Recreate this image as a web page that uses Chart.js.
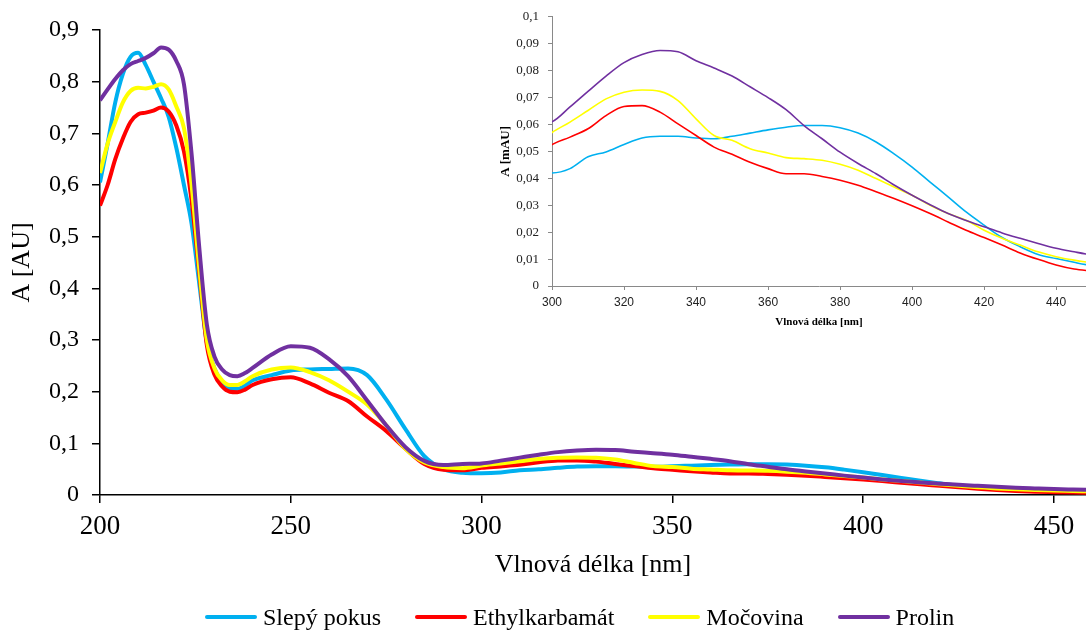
<!DOCTYPE html>
<html>
<head>
<meta charset="utf-8">
<script src="https://cdn.jsdelivr.net/npm/chart.js@4.4.1/dist/chart.umd.min.js"></script>
<style>
  html, body { margin: 0; padding: 0; background: #fff; }
  #wrap { position: relative; width: 1086px; height: 630px; overflow: hidden; }
  #main { position: absolute; left: 0; top: 0; }
  #inset { position: absolute; left: 470px; top: 0; }
  #legend {
    position: absolute; left: 205px; top: 602px; height: 30px;
    display: flex; align-items: center; white-space: nowrap;
    font-family: "Liberation Serif", "Times New Roman", serif; font-size: 24px; color: #000;
  }
  .item { display: flex; align-items: center; margin-right: 34px; }
  .swatch { width: 52px; height: 4px; margin-right: 6px; border-radius: 2px; }
</style>
</head>
<body>
<div id="wrap">
  <canvas id="main" width="1086" height="630"></canvas>
  <canvas id="inset" width="616" height="335"></canvas>
  <div id="legend"></div>
</div>
<script>
// wavelengths (nm) - 2 nm steps up to 240, then 5 nm steps
const wavelengths = [
  200, 202, 204, 206, 208, 210, 212, 214, 216, 218, 220, 222, 224, 226, 228, 230, 232, 234, 236, 238, 240,
  245, 250, 255, 260, 265, 270, 275, 280, 285, 290, 295, 300,
  305, 310, 315, 320, 325, 330, 335, 340, 345, 350,
  355, 360, 365, 370, 375, 380, 385, 390, 395, 400,
  405, 410, 415, 420, 425, 430, 435, 440, 445, 450,
  455, 460
];

const slepyPokus = [
  0.605, 0.68, 0.76, 0.815, 0.848, 0.856, 0.832, 0.8, 0.768, 0.732, 0.672, 0.6, 0.525, 0.41, 0.295, 0.245, 0.218, 0.206, 0.205, 0.212, 0.222,
  0.232, 0.241, 0.243, 0.244, 0.245, 0.232, 0.185, 0.128, 0.075, 0.05, 0.043, 0.042,
  0.0436, 0.048, 0.0498, 0.0526, 0.055, 0.0556, 0.0556, 0.055, 0.0547, 0.0556,
  0.0568, 0.058, 0.059, 0.0596, 0.0596, 0.0588, 0.0568, 0.0535, 0.0491, 0.0442,
  0.0386, 0.0331, 0.0275, 0.0226, 0.018, 0.0146, 0.0117, 0.0102, 0.0088, 0.0075,
  0.0065, 0.0057
];

const ethylkarbamat = [
  0.56, 0.6, 0.65, 0.69, 0.722, 0.737, 0.74, 0.744, 0.75, 0.742, 0.715, 0.665, 0.57, 0.43, 0.29, 0.233, 0.21, 0.2, 0.199, 0.204, 0.213,
  0.224, 0.228, 0.216, 0.198, 0.182, 0.152, 0.124, 0.09, 0.06, 0.049, 0.048, 0.0525,
  0.0553, 0.0584, 0.0633, 0.0667, 0.067, 0.0646, 0.0602, 0.0559, 0.0516, 0.0489,
  0.046, 0.0436, 0.0417, 0.0417, 0.0407, 0.0393, 0.0374, 0.035, 0.0325, 0.0298,
  0.0269, 0.0238, 0.0207, 0.018, 0.0152, 0.0123, 0.0099, 0.0078, 0.0063, 0.0055,
  0.0048, 0.0042
];

const mocovina = [
  0.623, 0.68, 0.722, 0.76, 0.782, 0.788, 0.787, 0.79, 0.795, 0.785, 0.752, 0.71, 0.6, 0.44, 0.3, 0.245, 0.222, 0.213, 0.213, 0.22, 0.23,
  0.243, 0.247, 0.238, 0.222, 0.2, 0.175, 0.135, 0.09, 0.063, 0.054, 0.052, 0.057,
  0.0609, 0.0652, 0.0695, 0.072, 0.0728, 0.0723, 0.0689, 0.0621, 0.0559, 0.0541,
  0.051, 0.0494, 0.0477, 0.0473, 0.0467, 0.0452, 0.043, 0.0399, 0.0368, 0.0337,
  0.03, 0.0269, 0.0244, 0.0207, 0.0177, 0.0152, 0.0127, 0.0109, 0.0096, 0.0086,
  0.0078, 0.007
];

const prolin = [
  0.764, 0.785, 0.805, 0.822, 0.834, 0.84, 0.846, 0.855, 0.866, 0.862, 0.84, 0.795, 0.66, 0.48, 0.33, 0.268, 0.243, 0.232, 0.23, 0.236, 0.246,
  0.272, 0.288, 0.285, 0.263, 0.23, 0.183, 0.135, 0.093, 0.066, 0.058, 0.06, 0.061,
  0.0665, 0.0723, 0.078, 0.083, 0.086, 0.0875, 0.087, 0.0837, 0.081, 0.078,
  0.074, 0.07, 0.0655, 0.0596, 0.0547, 0.0497, 0.0455, 0.0417, 0.0375, 0.0337,
  0.0302, 0.0269, 0.0243, 0.022, 0.0197, 0.0177, 0.0158, 0.014, 0.0127, 0.0115,
  0.0106, 0.0098
];

const seriesNames = ["Slepý pokus", "Ethylkarbamát", "Močovina", "Prolin"];
const seriesValues = [slepyPokus, ethylkarbamat, mocovina, prolin];
const seriesColors = ["#00B0F0", "#FF0000", "#FFFF00", "#7030A0"];

const SERIF = "'Liberation Serif', 'Times New Roman', serif";
const SANS = "'Liberation Sans', Arial, sans-serif";

const comma = (v) => {
  const r = Math.round(v * 1000) / 1000;
  return r === 0 ? "0" : String(r).replace(".", ",");
};

function makeSets (width) {
  return seriesNames.map((name, i) => ({
    label: name,
    data: wavelengths.map((x, j) => ({ x, y: seriesValues[i][j] })),
    borderColor: seriesColors[i],
    backgroundColor: seriesColors[i],
    borderWidth: width,
    pointRadius: 0,
    cubicInterpolationMode: "monotone",
    fill: false
  })).reverse();
}

// main chart
new Chart(document.getElementById("main"), {
  type: "line",
  data: { datasets: makeSets(4) },
  options: {
    responsive: false,
    animation: false,
    devicePixelRatio: 1,
    layout: { padding: { top: 30, right: 0, left: 0, bottom: 0 } },
    plugins: { legend: { display: false }, tooltip: { enabled: false } },
    scales: {
      x: {
        type: "linear",
        min: 200,
        max: 458.4,
        afterFit: (s) => { s.height = 135; },
        ticks: { stepSize: 50, includeBounds: false, color: "#000", padding: 8, font: { family: SERIF, size: 27 } },
        grid: { drawOnChartArea: false, color: "#000", tickLength: 8, lineWidth: 1.5 },
        border: { color: "#000", width: 1.5 },
        title: { display: true, text: "Vlnová délka [nm]", color: "#000", padding: { top: 0, bottom: 49.4 }, font: { family: SERIF, size: 26 } }
      },
      y: {
        min: 0,
        max: 0.9,
        afterFit: (s) => { s.width = 100; },
        ticks: { stepSize: 0.1, color: "#000", padding: 13, callback: comma, font: { family: SERIF, size: 24 } },
        grid: { drawOnChartArea: false, color: "#000", tickLength: 8, lineWidth: 1.5 },
        border: { color: "#000", width: 1.5 },
        title: { display: true, text: "A [AU]", color: "#000", padding: { top: 6.4, bottom: 0 }, font: { family: SERIF, size: 26 } }
      }
    }
  }
});

// inset chart
new Chart(document.getElementById("inset"), {
  type: "line",
  data: { datasets: makeSets(1.6) },
  options: {
    responsive: false,
    animation: false,
    devicePixelRatio: 1,
    layout: { padding: { top: 16, right: 0, left: 0, bottom: 0 } },
    plugins: { legend: { display: false }, tooltip: { enabled: false } },
    scales: {
      x: {
        type: "linear",
        min: 300,
        max: 448.3,
        afterFit: (s) => { s.height = 49; },
        ticks: { stepSize: 20, includeBounds: false, color: "#222", padding: 5.8, font: { family: SANS, size: 12 } },
        grid: { drawOnChartArea: false, color: "#898989", tickLength: 4, lineWidth: 1 },
        border: { color: "#898989", width: 1 },
        title: { display: true, text: "Vlnová délka [nm]", color: "#000", padding: { top: 0, bottom: 6.4 }, font: { family: SERIF, size: 11, weight: "bold" } }
      },
      y: {
        min: 0,
        max: 0.1,
        afterFit: (s) => { s.width = 82; },
        ticks: { stepSize: 0.01, color: "#222", padding: 9, callback: comma, font: { family: SERIF, size: 13 } },
        grid: { drawOnChartArea: false, color: "#898989", tickLength: 4, lineWidth: 1 },
        border: { color: "#898989", width: 1 },
        title: { display: true, text: "A [mAU]", color: "#000", padding: { top: 27.7, bottom: 0 }, font: { family: SERIF, size: 13, weight: "bold" } }
      }
    }
  }
});

// legend
const legend = document.getElementById("legend");
seriesNames.forEach((name, i) => {
  const item = document.createElement("div");
  item.className = "item";
  const sw = document.createElement("span");
  sw.className = "swatch";
  sw.style.background = seriesColors[i];
  const txt = document.createElement("span");
  txt.textContent = name;
  item.appendChild(sw);
  item.appendChild(txt);
  legend.appendChild(item);
});
</script>
</body>
</html>
